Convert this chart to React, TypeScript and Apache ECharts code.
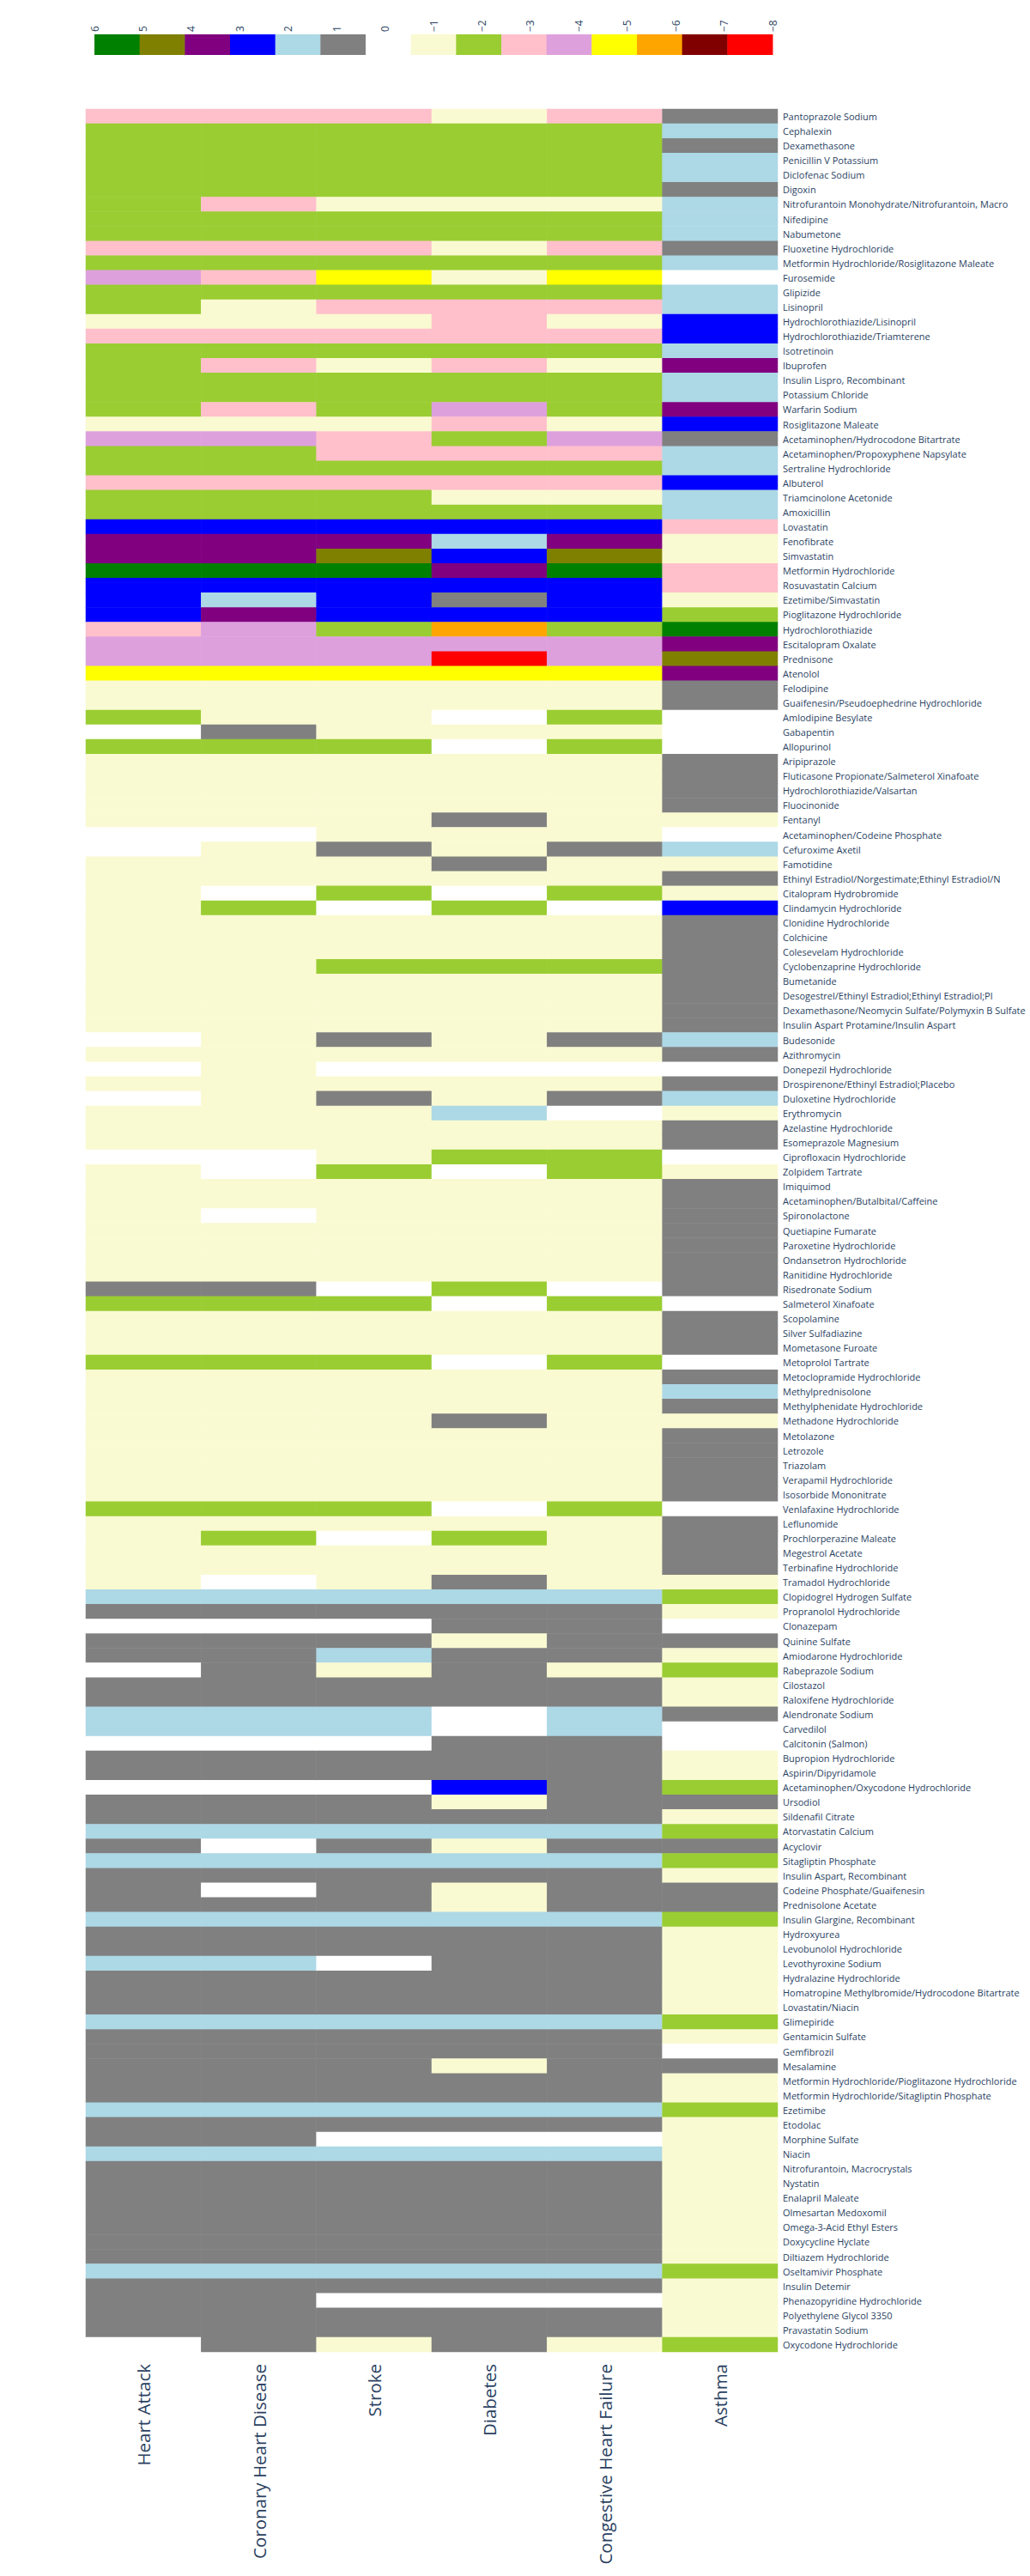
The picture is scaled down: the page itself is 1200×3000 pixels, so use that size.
import React, { useEffect, useRef } from "react";
import * as echarts from "echarts";

const conditions = ["Heart Attack", "Coronary Heart Disease", "Stroke", "Diabetes", "Congestive Heart Failure", "Asthma"];

const drugs = [
  "Pantoprazole Sodium", "Cephalexin", "Dexamethasone", "Penicillin V Potassium", "Diclofenac Sodium", "Digoxin",
  "Nitrofurantoin Monohydrate/Nitrofurantoin, Macro", "Nifedipine", "Nabumetone", "Fluoxetine Hydrochloride",
  "Metformin Hydrochloride/Rosiglitazone Maleate", "Furosemide", "Glipizide", "Lisinopril", "Hydrochlorothiazide/Lisinopril",
  "Hydrochlorothiazide/Triamterene", "Isotretinoin", "Ibuprofen", "Insulin Lispro, Recombinant", "Potassium Chloride",
  "Warfarin Sodium", "Rosiglitazone Maleate", "Acetaminophen/Hydrocodone Bitartrate", "Acetaminophen/Propoxyphene Napsylate",
  "Sertraline Hydrochloride", "Albuterol", "Triamcinolone Acetonide", "Amoxicillin", "Lovastatin", "Fenofibrate",
  "Simvastatin", "Metformin Hydrochloride", "Rosuvastatin Calcium", "Ezetimibe/Simvastatin", "Pioglitazone Hydrochloride",
  "Hydrochlorothiazide", "Escitalopram Oxalate", "Prednisone", "Atenolol", "Felodipine",
  "Guaifenesin/Pseudoephedrine Hydrochloride", "Amlodipine Besylate", "Gabapentin", "Allopurinol", "Aripiprazole",
  "Fluticasone Propionate/Salmeterol Xinafoate", "Hydrochlorothiazide/Valsartan", "Fluocinonide", "Fentanyl",
  "Acetaminophen/Codeine Phosphate", "Cefuroxime Axetil", "Famotidine", "Ethinyl Estradiol/Norgestimate;Ethinyl Estradiol/N",
  "Citalopram Hydrobromide", "Clindamycin Hydrochloride", "Clonidine Hydrochloride", "Colchicine", "Colesevelam Hydrochloride",
  "Cyclobenzaprine Hydrochloride", "Bumetanide", "Desogestrel/Ethinyl Estradiol;Ethinyl Estradiol;Pl",
  "Dexamethasone/Neomycin Sulfate/Polymyxin B Sulfate", "Insulin Aspart Protamine/Insulin Aspart", "Budesonide",
  "Azithromycin", "Donepezil Hydrochloride", "Drospirenone/Ethinyl Estradiol;Placebo", "Duloxetine Hydrochloride",
  "Erythromycin", "Azelastine Hydrochloride", "Esomeprazole Magnesium", "Ciprofloxacin Hydrochloride", "Zolpidem Tartrate",
  "Imiquimod", "Acetaminophen/Butalbital/Caffeine", "Spironolactone", "Quetiapine Fumarate", "Paroxetine Hydrochloride",
  "Ondansetron Hydrochloride", "Ranitidine Hydrochloride", "Risedronate Sodium", "Salmeterol Xinafoate", "Scopolamine",
  "Silver Sulfadiazine", "Mometasone Furoate", "Metoprolol Tartrate", "Metoclopramide Hydrochloride", "Methylprednisolone",
  "Methylphenidate Hydrochloride", "Methadone Hydrochloride", "Metolazone", "Letrozole", "Triazolam",
  "Verapamil Hydrochloride", "Isosorbide Mononitrate", "Venlafaxine Hydrochloride", "Leflunomide", "Prochlorperazine Maleate",
  "Megestrol Acetate", "Terbinafine Hydrochloride", "Tramadol Hydrochloride", "Clopidogrel Hydrogen Sulfate",
  "Propranolol Hydrochloride", "Clonazepam", "Quinine Sulfate", "Amiodarone Hydrochloride", "Rabeprazole Sodium",
  "Cilostazol", "Raloxifene Hydrochloride", "Alendronate Sodium", "Carvedilol", "Calcitonin (Salmon)",
  "Bupropion Hydrochloride", "Aspirin/Dipyridamole", "Acetaminophen/Oxycodone Hydrochloride", "Ursodiol",
  "Sildenafil Citrate", "Atorvastatin Calcium", "Acyclovir", "Sitagliptin Phosphate", "Insulin Aspart, Recombinant",
  "Codeine Phosphate/Guaifenesin", "Prednisolone Acetate", "Insulin Glargine, Recombinant", "Hydroxyurea",
  "Levobunolol Hydrochloride", "Levothyroxine Sodium", "Hydralazine Hydrochloride",
  "Homatropine Methylbromide/Hydrocodone Bitartrate", "Lovastatin/Niacin", "Glimepiride", "Gentamicin Sulfate",
  "Gemfibrozil", "Mesalamine", "Metformin Hydrochloride/Pioglitazone Hydrochloride",
  "Metformin Hydrochloride/Sitagliptin Phosphate", "Ezetimibe", "Etodolac", "Morphine Sulfate", "Niacin",
  "Nitrofurantoin, Macrocrystals", "Nystatin", "Enalapril Maleate", "Olmesartan Medoxomil", "Omega-3-Acid Ethyl Esters",
  "Doxycycline Hyclate", "Diltiazem Hydrochloride", "Oseltamivir Phosphate", "Insulin Detemir",
  "Phenazopyridine Hydrochloride", "Polyethylene Glycol 3350", "Pravastatin Sodium", "Oxycodone Hydrochloride",
];

const heartAttack = [
  -3,-2,-2,-2,-2,-2,-2,-2,-2,-3,
  -2,-4,-2,-2,-1,-3,-2,-2,-2,-2,
  -2,-1,-4,-2,-2,-3,-2,-2,3,4,
  4,6,3,3,3,-3,-4,-4,-5,-1,
  -1,-2,0,-2,-1,-1,-1,-1,-1,0,
  0,-1,-1,-1,-1,-1,-1,-1,-1,-1,
  -1,-1,-1,0,-1,0,-1,0,-1,-1,
  -1,0,-1,-1,-1,-1,-1,-1,-1,-1,
  1,-2,-1,-1,-1,-2,-1,-1,-1,-1,
  -1,-1,-1,-1,-1,-2,-1,-1,-1,-1,
  -1,2,1,0,1,1,0,1,1,2,
  2,0,1,1,0,1,1,2,1,2,
  1,1,1,2,1,1,2,1,1,1,
  2,1,1,1,1,1,2,1,1,2,
  1,1,1,1,1,1,1,2,1,1,
  1,1,0,
];
const coronaryHeartDisease = [
  -3,-2,-2,-2,-2,-2,-3,-2,-2,-3,
  -2,-3,-2,-1,-1,-3,-2,-3,-2,-2,
  -3,-1,-4,-2,-2,-3,-2,-2,3,4,
  4,6,3,2,4,-4,-4,-4,-5,-1,
  -1,-1,1,-2,-1,-1,-1,-1,-1,0,
  -1,-1,-1,0,-2,-1,-1,-1,-1,-1,
  -1,-1,-1,-1,-1,-1,-1,-1,-1,-1,
  -1,0,0,-1,-1,0,-1,-1,-1,-1,
  1,-2,-1,-1,-1,-2,-1,-1,-1,-1,
  -1,-1,-1,-1,-1,-2,-1,-2,-1,-1,
  0,2,1,0,1,1,1,1,1,2,
  2,0,1,1,0,1,1,2,0,2,
  1,0,1,2,1,1,2,1,1,1,
  2,1,1,1,1,1,2,1,1,2,
  1,1,1,1,1,1,1,2,1,1,
  1,1,1,
];
const stroke = [
  -3,-2,-2,-2,-2,-2,-1,-2,-2,-3,
  -2,-5,-2,-3,-1,-3,-2,-1,-2,-2,
  -2,-1,-3,-3,-2,-3,-2,-2,3,4,
  5,6,3,3,3,-2,-4,-4,-5,-1,
  -1,-1,-1,-2,-1,-1,-1,-1,-1,-1,
  1,-1,-1,-2,0,-1,-1,-1,-2,-1,
  -1,-1,-1,1,-1,0,-1,1,-1,-1,
  -1,-1,-2,-1,-1,-1,-1,-1,-1,-1,
  0,-2,-1,-1,-1,-2,-1,-1,-1,-1,
  -1,-1,-1,-1,-1,-2,-1,0,-1,-1,
  -1,2,1,0,1,2,-1,1,1,2,
  2,0,1,1,0,1,1,2,1,2,
  1,1,1,2,1,1,0,1,1,1,
  2,1,1,1,1,1,2,1,0,2,
  1,1,1,1,1,1,1,2,1,0,
  1,1,-1,
];
const diabetes = [
  -1,-2,-2,-2,-2,-2,-1,-2,-2,-1,
  -2,-1,-2,-3,-3,-3,-2,-3,-2,-2,
  -4,-3,-2,-3,-2,-3,-1,-2,3,2,
  3,4,3,1,3,-6,-4,-8,-5,-1,
  -1,0,-1,0,-1,-1,-1,-1,1,-1,
  -1,1,-1,0,-2,-1,-1,-1,-2,-1,
  -1,-1,-1,-1,-1,0,-1,-1,2,-1,
  -1,-2,0,-1,-1,-1,-1,-1,-1,-1,
  -2,0,-1,-1,-1,0,-1,-1,-1,1,
  -1,-1,-1,-1,-1,0,-1,-2,-1,-1,
  1,2,1,1,-1,1,1,1,1,0,
  0,1,1,1,3,-1,1,2,-1,2,
  1,-1,-1,2,1,1,1,1,1,1,
  2,1,1,-1,1,1,2,1,0,2,
  1,1,1,1,1,1,1,2,1,0,
  1,1,1,
];
const congestiveHeartFailure = [
  -3,-2,-2,-2,-2,-2,-1,-2,-2,-3,
  -2,-5,-2,-3,-1,-3,-2,-1,-2,-2,
  -2,-1,-4,-3,-2,-3,-1,-2,3,4,
  5,6,3,3,3,-2,-4,-4,-5,-1,
  -1,-2,-1,-2,-1,-1,-1,-1,-1,-1,
  1,-1,-1,-2,0,-1,-1,-1,-2,-1,
  -1,-1,-1,1,-1,0,-1,1,0,-1,
  -1,-2,-2,-1,-1,-1,-1,-1,-1,-1,
  0,-2,-1,-1,-1,-2,-1,-1,-1,-1,
  -1,-1,-1,-1,-1,-2,-1,-1,-1,-1,
  -1,2,1,1,1,1,-1,1,1,2,
  2,1,1,1,1,1,1,2,1,2,
  1,1,1,2,1,1,1,1,1,1,
  2,1,1,1,1,1,2,1,0,2,
  1,1,1,1,1,1,1,2,1,0,
  1,1,-1,
];
const asthma = [
  1,2,1,2,2,1,2,2,2,1,
  2,0,2,2,3,3,2,4,2,2,
  4,3,1,2,2,3,2,2,-3,-1,
  -1,-3,-3,-1,-2,6,4,5,4,1,
  1,0,0,0,1,1,1,1,-1,0,
  2,-1,1,-1,3,1,1,1,1,1,
  1,1,1,2,1,0,1,2,-1,1,
  1,0,-1,1,1,1,1,1,1,1,
  1,0,1,1,1,0,1,2,1,-1,
  1,1,1,1,1,0,1,1,1,1,
  -1,-2,-1,0,1,-1,-2,-1,-1,1,
  0,0,-1,-1,-2,1,-1,-2,1,-2,
  -1,1,1,-2,-1,-1,-1,-1,-1,-1,
  -2,-1,0,1,-1,-1,-2,-1,-1,-1,
  -1,-1,-1,-1,-1,-1,-1,-2,-1,-1,
  -1,-1,-2,
];

const scaleValues = [6, 5, 4, 3, 2, 1, 0, -1, -2, -3, -4, -5, -6, -7, -8];
const scaleColors = [
  "#008000", "#808000", "#800080", "#0000ff", "#add8e6", "#808080", "#ffffff",
  "#fafad2", "#9acd32", "#ffc0cb", "#dda0dd", "#ffff00", "#ffa500", "#800000", "#ff0000",
];

export default function App() {
  const ref = useRef<HTMLDivElement>(null);
  useEffect(() => {
    if (!ref.current) return;
    const chart = echarts.init(ref.current, null, { renderer: "svg" });
    const columns = [heartAttack, coronaryHeartDisease, stroke, diabetes, congestiveHeartFailure, asthma];
    const data: number[][] = [];
    columns.forEach((col, ci) => {
      col.forEach((v, ri) => data.push([ci, ri, v]));
    });

    const legLeft = 110;
    const legRight = 900;
    const sq = (legRight - legLeft) / scaleValues.length;
    const step = (legRight - legLeft) / (scaleValues.length - 1);
    const graphics: any[] = [];
    scaleValues.forEach((v, i) => {
      graphics.push({
        type: "rect",
        shape: { x: legLeft + i * sq, y: 40, width: sq + 0.5, height: 24 },
        style: { fill: scaleColors[i] },
      });
      graphics.push({
        type: "text",
        x: legLeft + i * step,
        y: 37,
        rotation: Math.PI / 2,
        style: {
          text: v < 0 ? "\u2212" + Math.abs(v) : String(v),
          align: "left",
          verticalAlign: "middle",
          fontSize: 12,
          fontFamily: "Open Sans",
          fill: "#2a3f5f",
        },
      });
    });

    chart.setOption({
      animation: false,
      backgroundColor: "#ffffff",
      grid: { left: 100, top: 127, width: 806, height: 2612, outerBoundsMode: "none", containLabel: false },
      xAxis: {
        type: "category",
        data: conditions,
        position: "bottom",
        axisLine: { show: false },
        axisTick: { show: false },
        splitLine: { show: false },
        axisLabel: {
          rotate: 90,
          interval: 0,
          fontSize: 20.5,
          fontFamily: "Open Sans",
          color: "#2a3f5f",
          margin: 14,
        },
      },
      yAxis: {
        type: "category",
        data: drugs,
        inverse: true,
        position: "right",
        axisLine: { show: false },
        axisTick: { show: false },
        splitLine: { show: false },
        axisLabel: {
          interval: 0,
          fontSize: 11,
          fontFamily: "Open Sans",
          color: "#2a3f5f",
          margin: 6,
        },
      },
      visualMap: {
        type: "piecewise",
        show: false,
        dimension: 2,
        pieces: scaleValues.map((v, i) => ({ value: v, color: scaleColors[i] })),
      },
      graphic: graphics,
      series: [
        {
          type: "heatmap",
          data,
          progressive: 0,
          itemStyle: { borderWidth: 0 },
          emphasis: { disabled: true },
        },
      ],
    });
    return () => chart.dispose();
  }, []);
  return (
    <div
      ref={ref}
      style={{ position: "absolute", left: 0, top: 0, width: 1200, height: 3000 }}
    />
  );
}
